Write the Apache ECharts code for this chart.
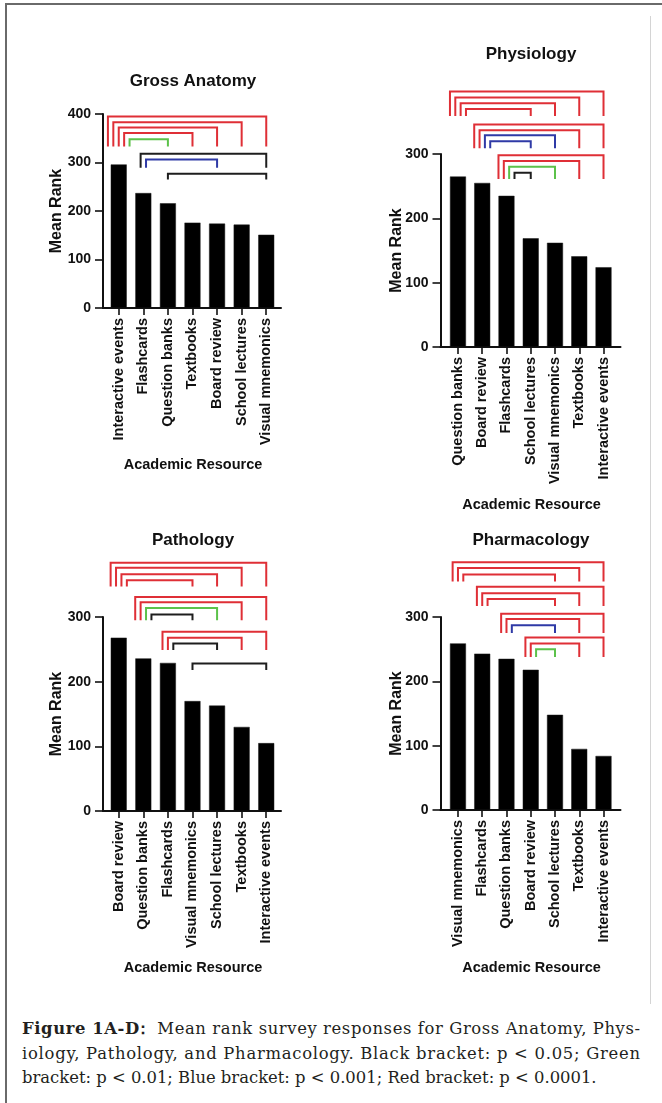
<!DOCTYPE html>
<html>
<head>
<meta charset="utf-8">
<script src="https://cdn.jsdelivr.net/npm/echarts@6/dist/echarts.min.js"></script>
<style>
  html, body { margin: 0; padding: 0; background: #fff; }
  body { width: 662px; height: 1103px; position: relative; overflow: hidden; }
  #frame { position: absolute; left: 5px; top: 3px; right: 0; bottom: 0;
           border-top: 2px solid #6a6a6a; border-left: 2px solid #6a6a6a; }
  #rule { position: absolute; left: 650px; top: 16px; width: 1px; height: 988px; background: #d4d4d4; }
  #chart { position: absolute; left: 0; top: 0; width: 662px; height: 1005px; }
  #caption { position: absolute; left: 22px; top: 1017px; width: 618px;
             font-family: "DejaVu Serif", serif; font-size: 16.4px; line-height: 24.5px; color: #231f20; }
  #caption div { white-space: nowrap; }
  #caption span.line { display: inline-block; }
  #caption b { font-weight: bold; }
  #caption .colon { margin-left: -5px; }
</style>
</head>
<body>
<div id="frame"></div>
<div id="rule"></div>
<div id="chart"></div>
<div id="caption">
  <div><span class="line fill"><b>Figure 1A-D<span class="colon">：</span></b> Mean rank survey responses for Gross Anatomy, Phys-</span></div>
  <div><span class="line fill">iology, Pathology, and Pharmacology. Black bracket: p &lt; 0.05; Green</span></div>
  <div><span class="line">bracket: p &lt; 0.01; Blue bracket: p &lt; 0.001; Red bracket: p &lt; 0.0001.</span></div>
</div>
<script>
// ---- Data: mean rank per academic resource, for each subject ----
const grossCategories = ['Interactive events', 'Flashcards', 'Question banks', 'Textbooks', 'Board review', 'School lectures', 'Visual mnemonics'];
const grossValues = [296, 237, 216, 176, 174, 172, 151];
// comparison brackets: [fromIndex, toIndex, bracket top, leg foot, significance]
const grossBrackets = [
  [0, 6, 395, 333, 'p0001'], [0, 5, 383, 333, 'p0001'], [0, 4, 372, 333, 'p0001'], [0, 3, 361, 333, 'p0001'], [0, 2, 348, 333, 'p01'],
  [1, 6, 318, 289, 'p05'], [1, 4, 306, 289, 'p001'],
  [2, 6, 277, 265, 'p05']
];

const physioCategories = ['Question banks', 'Board review', 'Flashcards', 'School lectures', 'Visual mnemonics', 'Textbooks', 'Interactive events'];
const physioValues = [265, 255, 235, 169, 162, 141, 124];
const physioBrackets = [
  [0, 6, 397, 359, 'p0001'], [0, 5, 388, 359, 'p0001'], [0, 4, 379, 359, 'p0001'], [0, 3, 370, 359, 'p0001'],
  [1, 6, 346, 309, 'p0001'], [1, 5, 337, 309, 'p0001'], [1, 4, 329, 309, 'p001'], [1, 3, 320, 309, 'p001'],
  [2, 6, 298, 261, 'p0001'], [2, 5, 289, 261, 'p0001'], [2, 4, 280, 261, 'p01'], [2, 3, 271, 261, 'p05']
];

const pathoCategories = ['Board review', 'Question banks', 'Flashcards', 'Visual mnemonics', 'School lectures', 'Textbooks', 'Interactive events'];
const pathoValues = [268, 236, 229, 170, 163, 130, 105];
const pathoBrackets = [
  [0, 6, 384, 347, 'p0001'], [0, 5, 376, 347, 'p0001'], [0, 4, 366, 347, 'p0001'], [0, 3, 357, 347, 'p0001'],
  [1, 6, 331, 295, 'p0001'], [1, 5, 323, 295, 'p0001'], [1, 4, 314, 295, 'p01'], [1, 3, 304, 295, 'p05'],
  [2, 6, 277, 249, 'p0001'], [2, 5, 268, 249, 'p0001'], [2, 4, 259, 249, 'p05'],
  [3, 6, 228, 218, 'p05']
];

const pharmaCategories = ['Visual mnemonics', 'Flashcards', 'Question banks', 'Board review', 'School lectures', 'Textbooks', 'Interactive events'];
const pharmaValues = [259, 243, 235, 218, 148, 95, 84];
const pharmaBrackets = [
  [0, 6, 385, 355, 'p0001'], [0, 5, 376, 355, 'p0001'], [0, 4, 366, 355, 'p0001'],
  [1, 6, 347, 317, 'p0001'], [1, 5, 337, 317, 'p0001'], [1, 4, 328, 317, 'p0001'],
  [2, 6, 305, 275, 'p0001'], [2, 5, 297, 275, 'p0001'], [2, 4, 287, 275, 'p001'],
  [3, 6, 268, 238, 'p0001'], [3, 5, 259, 238, 'p0001'], [3, 4, 250, 238, 'p01']
];

const yTickStep = 100;

// ---- Styling ----
const FONT = '"Liberation Sans", Arial, Helvetica, sans-serif';
const INK = '#111';
const sigColors = { p05: '#1e1e1e', p01: '#5cc24a', p001: '#2f3aa6', p0001: '#df2f36' };
const LEG_SPREAD = 0.22; // spacing (in category units) between bracket legs sharing a bar

const panels = [
  { title: 'Gross Anatomy', cats: grossCategories, vals: grossValues, brackets: grossBrackets, yMax: 400,
    box: { left: 103, top: 114, width: 178, height: 194, xMin: -0.64, xMax: 6.6, titleX: 193, titleY: 81, yNameX: 57, xNameY: 465 } },
  { title: 'Physiology', cats: physioCategories, vals: physioValues, brackets: physioBrackets, yMax: 300,
    box: { left: 440.5, top: 154, width: 180, height: 193, xMin: -0.72, xMax: 6.7, titleX: 531, titleY: 54, yNameX: 397, xNameY: 505 } },
  { title: 'Pathology', cats: pathoCategories, vals: pathoValues, brackets: pathoBrackets, yMax: 300,
    box: { left: 103, top: 617, width: 178, height: 194, xMin: -0.64, xMax: 6.6, titleX: 193, titleY: 540, yNameX: 57, xNameY: 968 } },
  { title: 'Pharmacology', cats: pharmaCategories, vals: pharmaValues, brackets: pharmaBrackets, yMax: 300,
    box: { left: 440.5, top: 617, width: 180, height: 193, xMin: -0.72, xMax: 6.7, titleX: 531, titleY: 540, yNameX: 397, xNameY: 968 } }
];

// Spread the left legs of brackets that start on the same bar
function bracketSegments(list) {
  const groups = {};
  list.forEach(b => { (groups[b[0]] = groups[b[0]] || []).push(b); });
  return list.map(b => {
    const g = groups[b[0]];
    const k = g.indexOf(b);
    const off = (k - (g.length - 1) / 2) * LEG_SPREAD;
    return [b[0] + off, b[1], b[2], b[3], b[4]];
  });
}

const grid = [], xAxis = [], yAxis = [], series = [], graphic = [];

panels.forEach((p, i) => {
  const b = p.box;
  grid.push({ left: b.left, top: b.top, width: b.width, height: b.height, containLabel: false });
  const idx = p.cats.map((_, k) => k);
  xAxis.push({
    type: 'value', gridIndex: i, min: b.xMin, max: b.xMax,
    axisLine: { show: true, onZero: false, lineStyle: { color: INK, width: 2 } },
    axisTick: { show: true, customValues: idx, length: 7, lineStyle: { color: INK, width: 1.6 } },
    axisLabel: {
      show: true, customValues: idx, rotate: 90, margin: 10,
      formatter: v => p.cats[Math.round(v)],
      color: INK, fontFamily: FONT, fontWeight: 'bold', fontSize: 14.5
    },
    splitLine: { show: false }
  });
  yAxis.push({
    type: 'value', gridIndex: i, min: 0, max: p.yMax, interval: yTickStep,
    axisLine: { show: true, onZero: false, lineStyle: { color: INK, width: 2 } },
    axisTick: { show: true, length: 8, lineStyle: { color: INK, width: 1.6 } },
    axisLabel: { color: INK, fontFamily: FONT, fontWeight: 'bold', fontSize: 14, margin: 12 },
    splitLine: { show: false }
  });
  series.push({
    type: 'bar', xAxisIndex: i, yAxisIndex: i, barWidth: 16, silent: true,
    itemStyle: { color: '#000', borderColor: '#1a1a1a', borderWidth: 0.5 },
    data: p.vals.map((v, k) => [k, v])
  });
  const segs = bracketSegments(p.brackets);
  series.push({
    type: 'custom', xAxisIndex: i, yAxisIndex: i, clip: false, silent: true,
    encode: { x: [0, 1], y: [2, 3] },
    data: segs.map(s => s.slice(0, 4)),
    renderItem: (params, api) => {
      const s = segs[params.dataIndex];
      const pts = [
        api.coord([s[0], s[3]]), api.coord([s[0], s[2]]),
        api.coord([s[1], s[2]]), api.coord([s[1], s[3]])
      ];
      return { type: 'polyline', shape: { points: pts },
               style: { stroke: sigColors[s[4]], lineWidth: 2, fill: null } };
    },
    z: 3
  });
  graphic.push(
    { type: 'text', x: b.titleX, y: b.titleY,
      style: { text: p.title, font: 'bold 17px ' + FONT, fill: INK, align: 'center', verticalAlign: 'middle' } },
    { type: 'text', x: b.yNameX, y: b.top + b.height / 2, rotation: Math.PI / 2,
      style: { text: 'Mean Rank', font: 'bold 16px ' + FONT, fill: INK, align: 'center', verticalAlign: 'middle' } },
    { type: 'text', x: b.left + b.width / 2 + 1, y: b.xNameY,
      style: { text: 'Academic Resource', font: 'bold 14.5px ' + FONT, fill: INK, align: 'center', verticalAlign: 'middle' } }
  );
});

const chart = echarts.init(document.getElementById('chart'), null, { renderer: 'canvas' });
chart.setOption({
  animation: false,
  backgroundColor: 'transparent',
  grid, xAxis, yAxis, series, graphic
});

// Full-width caption lines: spread the glyphs evenly to the column width
const captionWidth = 618;
document.querySelectorAll('#caption span.fill').forEach(el => {
  const text = el.textContent;
  const w = el.getBoundingClientRect().width;
  const gaps = Math.max(1, text.length - 1);
  el.style.letterSpacing = ((captionWidth - w) / gaps) + 'px';
});
</script>
</body>
</html>
